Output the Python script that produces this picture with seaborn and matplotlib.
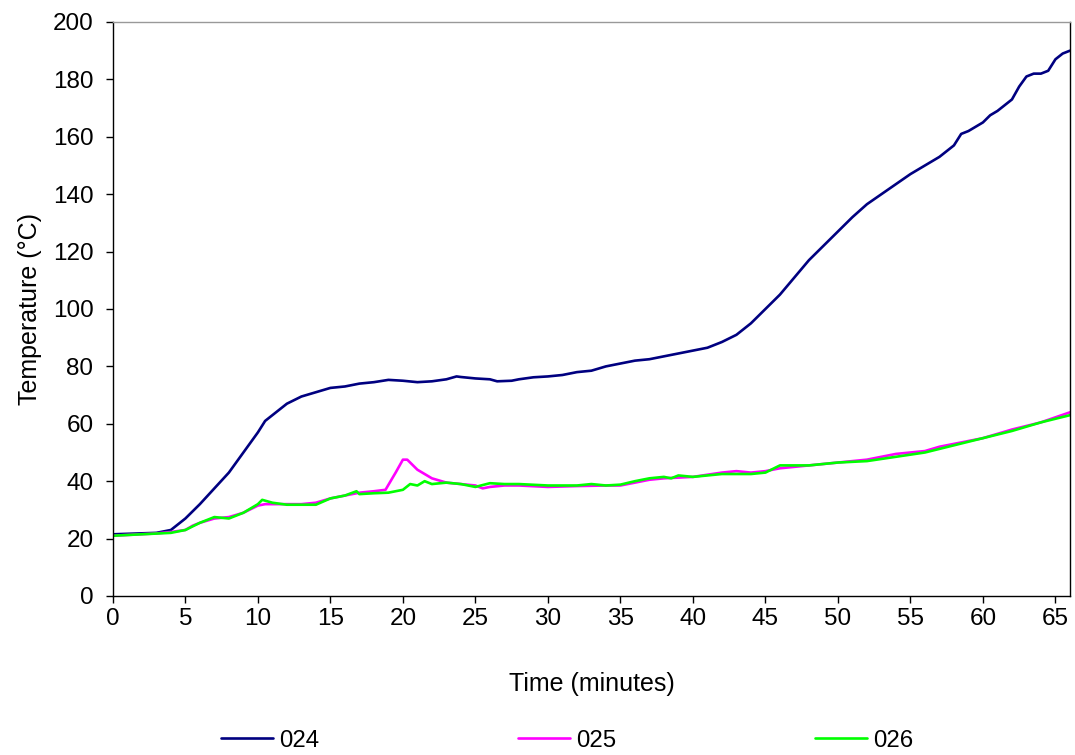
import pandas as pd
import numpy as np
import matplotlib.pyplot as plt
import seaborn as sns

# series (time in minutes, temperature in C)
t_024 = [0, 3, 4, 5, 6, 7, 8, 9, 10, 10.5, 11, 12, 13, 14, 15, 16, 17, 18, 19, 20, 21, 22, 23,
         23.7, 24, 25, 26, 26.5, 27.5, 28, 29, 30, 31, 32, 33, 34, 35, 36, 37, 38, 39, 40, 41,
         42, 43, 44, 45, 46, 47, 48, 49, 50, 51, 52, 53, 54, 55, 56, 57, 58, 58.5, 59, 60, 60.5,
         61, 62, 62.5, 63, 63.5, 64, 64.5, 65, 65.5, 66]
y_024 = [21.5, 22, 23, 27, 32, 37.5, 43, 50, 57, 61, 63, 67, 69.5, 71, 72.5, 73, 74, 74.5, 75.3,
         75, 74.5, 74.8, 75.5, 76.5, 76.3, 75.8, 75.5, 74.8, 75, 75.5, 76.2, 76.5, 77, 78, 78.5,
         80, 81, 82, 82.5, 83.5, 84.5, 85.5, 86.5, 88.5, 91, 95, 100, 105, 111, 117, 122, 127,
         132, 136.5, 140, 143.5, 147, 150, 153, 157, 161, 162, 165, 167.5, 169, 173, 177.5, 181,
         182, 182, 183, 187, 189, 190]

t_025 = [0, 3, 4, 5, 5.5, 6, 7, 8, 9, 10, 10.5, 11, 12, 13, 14, 15, 16, 17, 18, 18.8, 19.5, 20,
         20.3, 21, 22, 23, 24, 25, 25.5, 26, 27, 28, 30, 32, 34, 35, 36, 37, 38, 40, 42, 43, 44,
         45, 46, 47, 48, 50, 52, 54, 56, 57, 58, 60, 62, 64, 66]
y_025 = [21, 21.8, 22.3, 23, 24.5, 25.5, 27, 27.5, 29, 31.5, 32, 32, 32, 32, 32.5, 34, 35, 36,
         36.5, 37, 43, 47.5, 47.5, 44, 41, 39.5, 39, 38.5, 37.5, 38, 38.5, 38.5, 38, 38.3, 38.5,
         38.5, 39.5, 40.5, 41, 41.5, 43, 43.5, 43, 43.5, 44.5, 45, 45.5, 46.5, 47.5, 49.5, 50.5,
         52, 53, 55, 58, 60.5, 64]

t_026 = [0, 4, 5, 6, 7, 8, 9, 10, 10.3, 11, 12, 14, 15, 16, 16.8, 17, 18, 19, 20, 20.5, 21,
         21.5, 22, 23, 24, 25, 26, 27, 28, 30, 32, 33, 34, 35, 36, 37, 38, 38.5, 39, 40, 42, 44,
         45, 46, 47, 48, 50, 52, 54, 56, 58, 60, 62, 64, 66]
y_026 = [21, 22, 23, 25.5, 27.5, 27, 29, 32, 33.5, 32.5, 31.8, 31.8, 34, 35, 36.5, 35.5, 35.8,
         36, 37, 39, 38.5, 40, 39, 39.5, 39, 38, 39.3, 39, 39, 38.5, 38.5, 39, 38.5, 38.8, 40,
         41, 41.5, 41, 42, 41.5, 42.5, 42.5, 43, 45.5, 45.5, 45.5, 46.5, 47, 48.5, 50, 52.5, 55,
         57.5, 60.5, 63]

series_names = ["024", "025", "026"]
series_colors = ["#000080", "#FF00FF", "#00FF00"]

df = pd.concat([
    pd.DataFrame({"time": t_024, "temp": y_024, "run": "024"}),
    pd.DataFrame({"time": t_025, "temp": y_025, "run": "025"}),
    pd.DataFrame({"time": t_026, "temp": y_026, "run": "026"}),
])

sns.set_style("white")
plt.rcParams['font.family'] = ['Liberation Sans', 'DejaVu Sans']
plt.rcParams['text.color'] = 'black'
plt.rcParams['axes.labelcolor'] = 'black'
plt.rcParams['xtick.color'] = 'black'
plt.rcParams['ytick.color'] = 'black'

fig = plt.figure(figsize=(10.75, 7.55), dpi=100)
ax = fig.add_axes([0.105, 0.2106, 0.8903, 0.7603])

sns.lineplot(data=df, x="time", y="temp", hue="run", hue_order=series_names,
             palette=series_colors, estimator=None, sort=False, linewidth=1.9, ax=ax)

ax.set_xlim(0, 66)
ax.set_ylim(0, 200)
ax.set_xticks(range(0, 66, 5))
ax.set_yticks(range(0, 201, 20))
ax.tick_params(axis="both", labelsize=17.5, direction="out", length=5, width=1,
               bottom=True, left=True, color="black", labelcolor="black")
ax.tick_params(axis="y", pad=9)
ax.tick_params(axis="x", pad=4)
ax.set_xlabel("Time (minutes)", fontsize=18, labelpad=30)
ax.set_ylabel("Temperature (°C)", fontsize=18, labelpad=8)

for side in ["left", "bottom", "right"]:
    ax.spines[side].set_color("black")
    ax.spines[side].set_linewidth(1)
ax.spines["top"].set_color("#999999")
ax.spines["top"].set_linewidth(1)

handles, labels = ax.get_legend_handles_labels()
ax.get_legend().remove()
fig.legend(handles, labels, loc="center left", bbox_to_anchor=(0.2056, 0.019), ncol=3,
           frameon=False, fontsize=17.3, handlelength=2.15, handletextpad=0.25,
           columnspacing=8.3, borderpad=0, borderaxespad=0)

fig.savefig("out.png", dpi=100)
